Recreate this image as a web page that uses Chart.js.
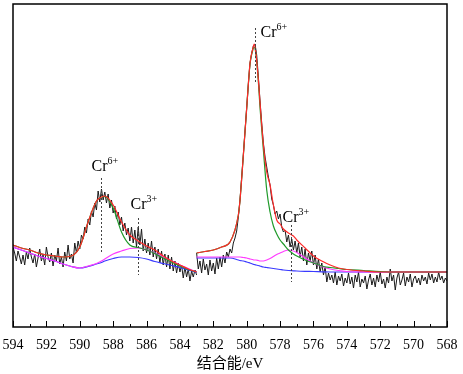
<!DOCTYPE html>
<html>
<head>
<meta charset="utf-8">
<script src="https://cdn.jsdelivr.net/npm/chart.js@4.4.1/dist/chart.umd.min.js"></script>
<style>
  html, body { margin: 0; padding: 0; background: #fff; }
  #wrap { width: 463px; height: 374px; }
</style>
</head>
<body>
<div id="wrap"><canvas id="c"></canvas></div>
<script>
/* Cr 2p XPS spectrum: raw counts + peak fit (arbitrary units) */
const SERIF = "'Liberation Serif', 'Times New Roman', serif";

// raw data, 0.1 eV steps
const rawLeftStart = 594.0;   // Cr 2p1/2 window
const rawRightStart = 583.0;  // Cr 2p3/2 window
const rawStep = 0.1;
const rawLeft = [
  80, 74, 66, 76, 70, 63, 72, 62, 75, 68, 79, 70, 64, 73, 60, 69, 78, 66, 72, 62,
  80, 70, 65, 74, 61, 72, 66, 79, 63, 70, 60, 75, 66, 82, 68, 73, 64, 84, 74, 86,
  78, 92, 88, 100, 94, 108, 102, 116, 110, 124, 117, 136, 125, 138, 127, 135, 124, 133, 119, 127,
  114, 121, 108, 115, 102, 110, 96, 104, 92, 99, 86, 100, 84, 97, 80, 100, 82, 98, 76, 88,
  74, 84, 72, 86, 70, 80, 68, 78, 64, 76, 62, 73, 60, 72, 58, 70, 56, 66, 54, 64,
  55, 62, 49, 60, 50, 58, 46, 56, 50, 57, 52
];
const rawRight = [
  74, 58, 66, 54, 68, 57, 63, 52, 67, 56, 64, 53, 69, 58, 70, 60, 72, 64, 75, 70,
  78, 74, 84, 89, 96, 110, 127, 150, 172, 196, 219, 243, 264, 274, 281, 283, 272, 250, 226, 204,
  184, 170, 160, 150, 142, 128, 122, 113, 116, 108, 113, 100, 95, 97, 85, 92, 80, 88, 77, 86,
  74, 84, 70, 80, 66, 78, 62, 74, 66, 76, 62, 72, 58, 68, 55, 64, 52, 60, 45, 54,
  47, 52, 44, 55, 42, 51, 46, 53, 41, 49, 44, 54, 43, 50, 39, 52, 45, 55, 40, 48,
  44, 51, 38, 47, 53, 42, 49, 40, 52, 45, 55, 43, 48, 39, 50, 44, 58, 46, 52, 37,
  49, 55, 42, 47, 54, 41, 50, 45, 53, 40, 48, 51, 44, 49, 42, 52, 46, 50, 43, 54,
  47, 53, 44, 50, 45, 55, 47, 51, 44, 49, 46
];

// fitted curves, left window
const fitLeftEV = [594, 593.5, 593, 592.5, 592, 591.5, 591, 590.5, 590, 589.5, 589, 588.7,
  588.5, 588, 587.5, 587, 586.5, 586, 585.5, 585, 584.5, 584, 583.5, 583];
const envLeft = [82, 79, 77, 74, 72, 71, 70, 71, 80, 105, 126, 130,
  131, 122, 105, 92, 86, 81, 77, 71, 66, 62, 58, 55];
const cr6Left = [82, 79, 77, 74, 72, 71, 70, 71, 80, 105, 126, 130,
  130.5, 119, 95, 82, 79.5, 77, 73.5, 69, 65, 61, 57.5, 55];
const cr3Left = [80, 77, 74, 71, 68.5, 66, 63, 60.5, 59, 61, 63.5, 66,
  68, 73, 76, 78.5, 79, 77, 74, 70, 66, 62, 58.5, 55];
const bgLeft = [80, 77, 74, 71, 68.5, 66, 63, 60.5, 59, 60.5, 63, 64.5,
  66, 68.5, 70, 70, 69.5, 68, 65.5, 63.5, 61.5, 59.5, 57, 54.5];

// fitted curves, right window
const fitRightEV = [583, 582.5, 582, 581.5, 581, 580.5, 580.4, 580.2, 580, 579.9, 579.8, 579.65,
  579.55, 579.45, 579.3, 579.2, 579, 578.8, 578.6, 578.4, 578.2, 578, 577.8, 577.5,
  577.2, 577, 576.5, 576, 575.5, 575, 574.5, 574, 573, 572, 571, 570, 569, 568];
const envRight = [74, 75.5, 77, 80, 85, 112, 127, 172, 219, 243, 264, 277,
  283, 274, 247, 224, 182, 155, 142, 122, 107, 103, 98, 94,
  91, 87, 79, 71, 66, 62, 59, 57.5, 56, 55, 55, 55, 55, 55];
const cr6Right = [74, 75.5, 77, 80, 85, 112, 127, 172, 219, 243, 263, 276,
  280, 273, 245, 219, 177, 137, 115, 101, 93, 87, 83, 77,
  73, 71, 67, 64, 61, 59.5, 58.5, 57.5, 56.5, 55.5, 55, 55, 55, 55];
const cr3Right = [70, 70, 70, 70, 70, 70, 70, 69.5, 69, 68.5, 68, 67.5,
  67, 67, 66.5, 66, 66, 67, 68.5, 70.5, 72.5, 74, 75.5, 77,
  76, 74.5, 69, 64, 60.5, 58, 56.5, 55.5, 55, 55, 55, 55, 55, 55];
const bgRight = [69, 69, 69, 69, 69, 67, 66.5, 66, 65, 64.5, 64, 63,
  62.5, 62, 61.5, 61, 60, 59.5, 59, 58.5, 58, 57.5, 57, 56.5,
  56.2, 56, 55.7, 55.5, 55.2, 55, 55, 55, 55, 55, 55, 55, 55, 55];

// peak markers
const markEV = [588.7, 586.5, 579.5, 577.35];
const markIon = ['Cr', 'Cr', 'Cr', 'Cr'];
const markCharge = ['6+', '3+', '6+', '3+'];
const markTop = [149, 109, 299, 102];
const markBottom = [74, 52, 245, 45];

const xTicksMin = 568;
const xTicksMax = 594;

function rawPoints(start, vals) {
  return vals.map((v, i) => ({ x: +(start - i * rawStep).toFixed(2), y: v }));
}
function fitPoints(ev, vals) {
  return vals.map((v, i) => ({ x: ev[i], y: v }));
}

// label offsets (px) from the top of each dashed line
const markText = [
  { dx: -10, dy: -7 },
  { dx: -8, dy: -9 },
  { dx: 5, dy: 9 },
  { dx: -9, dy: -3 }
];

const peakMarks = {
  id: 'peakMarks',
  afterDatasetsDraw(chart) {
    const { ctx, scales: { x, y } } = chart;
    ctx.save();
    markEV.forEach((e, i) => {
      const px = Math.round(x.getPixelForValue(e)) + 0.5;
      const top = y.getPixelForValue(markTop[i]);
      const bot = y.getPixelForValue(markBottom[i]);
      ctx.strokeStyle = '#444';
      ctx.lineWidth = 1;
      ctx.setLineDash([2, 2]);
      ctx.beginPath();
      ctx.moveTo(px, top);
      ctx.lineTo(px, bot);
      ctx.stroke();
      ctx.setLineDash([]);
      const tx = px + markText[i].dx;
      const ty = top + markText[i].dy;
      ctx.fillStyle = '#000';
      ctx.textBaseline = 'alphabetic';
      ctx.textAlign = 'left';
      ctx.font = '16px ' + SERIF;
      ctx.fillText(markIon[i], tx, ty);
      const w = ctx.measureText(markIon[i]).width;
      ctx.font = '10px ' + SERIF;
      ctx.fillText(markCharge[i], tx + w, ty - 7);
    });
    ctx.restore();
  }
};

const frame = {
  id: 'frame',
  afterDraw(chart) {
    const { ctx, chartArea: a, scales: { x } } = chart;
    ctx.save();
    ctx.strokeStyle = '#000';
    ctx.lineWidth = 1;
    x.ticks.forEach(t => {
      const px = Math.round(x.getPixelForValue(t.value)) + 0.5;
      const len = t.value % 2 === 0 ? 6 : 3;
      ctx.beginPath();
      ctx.moveTo(px, a.bottom);
      ctx.lineTo(px, a.bottom - len);
      ctx.stroke();
    });
    ctx.lineWidth = 1.5;
    ctx.strokeRect(a.left, a.top, a.right - a.left, a.bottom - a.top);
    ctx.restore();
  }
};

function line(data, color, width, order, smooth) {
  return {
    data,
    borderColor: color,
    borderWidth: width,
    pointRadius: 0,
    fill: false,
    order,
    tension: 0,
    cubicInterpolationMode: smooth ? 'monotone' : 'default'
  };
}

new Chart(document.getElementById('c'), {
  type: 'line',
  data: {
    datasets: [
      line(rawPoints(rawLeftStart, rawLeft), '#1a1a1a', 1, 5, false),
      line(rawPoints(rawRightStart, rawRight), '#1a1a1a', 1, 5, false),
      line(fitPoints(fitLeftEV, bgLeft), '#3a3aff', 1.2, 4, true),
      line(fitPoints(fitRightEV, bgRight), '#3a3aff', 1.2, 4, true),
      line(fitPoints(fitLeftEV, cr3Left), '#ff3cff', 1.2, 3, true),
      line(fitPoints(fitRightEV, cr3Right), '#ff3cff', 1.2, 3, true),
      line(fitPoints(fitLeftEV, cr6Left), '#1f9a2a', 1.2, 2, true),
      line(fitPoints(fitRightEV, cr6Right), '#1f9a2a', 1.2, 2, true),
      line(fitPoints(fitLeftEV, envLeft), '#ff2a2a', 1.2, 1, true),
      line(fitPoints(fitRightEV, envRight), '#ff2a2a', 1.2, 1, true)
    ]
  },
  options: {
    responsive: true,
    maintainAspectRatio: false,
    animation: false,
    devicePixelRatio: 1,
    layout: { padding: { left: 13, right: 16, top: 4, bottom: 0 } },
    plugins: { legend: { display: false }, tooltip: { enabled: false } },
    scales: {
      x: {
        type: 'linear',
        reverse: true,
        min: xTicksMin,
        max: xTicksMax,
        grid: { display: false, drawTicks: false },
        border: { display: false },
        afterFit(scale) {
          scale.height = 47;
          scale.paddingLeft = 0;
          scale.paddingRight = 0;
        },
        ticks: {
          stepSize: 1,
          autoSkip: false,
          maxRotation: 0,
          padding: 10,
          color: '#000',
          font: { family: SERIF, size: 14 },
          callback: v => (v % 2 === 0 ? String(v) : '')
        },
        title: {
          display: true,
          text: '结合能/eV',
          color: '#000',
          font: { family: "'Liberation Serif', 'Noto Sans CJK SC', serif", size: 15 },
          padding: { top: 4, bottom: 1 }
        }
      },
      y: { display: false, min: 0, max: 323 }
    }
  },
  plugins: [peakMarks, frame]
});
</script>
</body>
</html>
